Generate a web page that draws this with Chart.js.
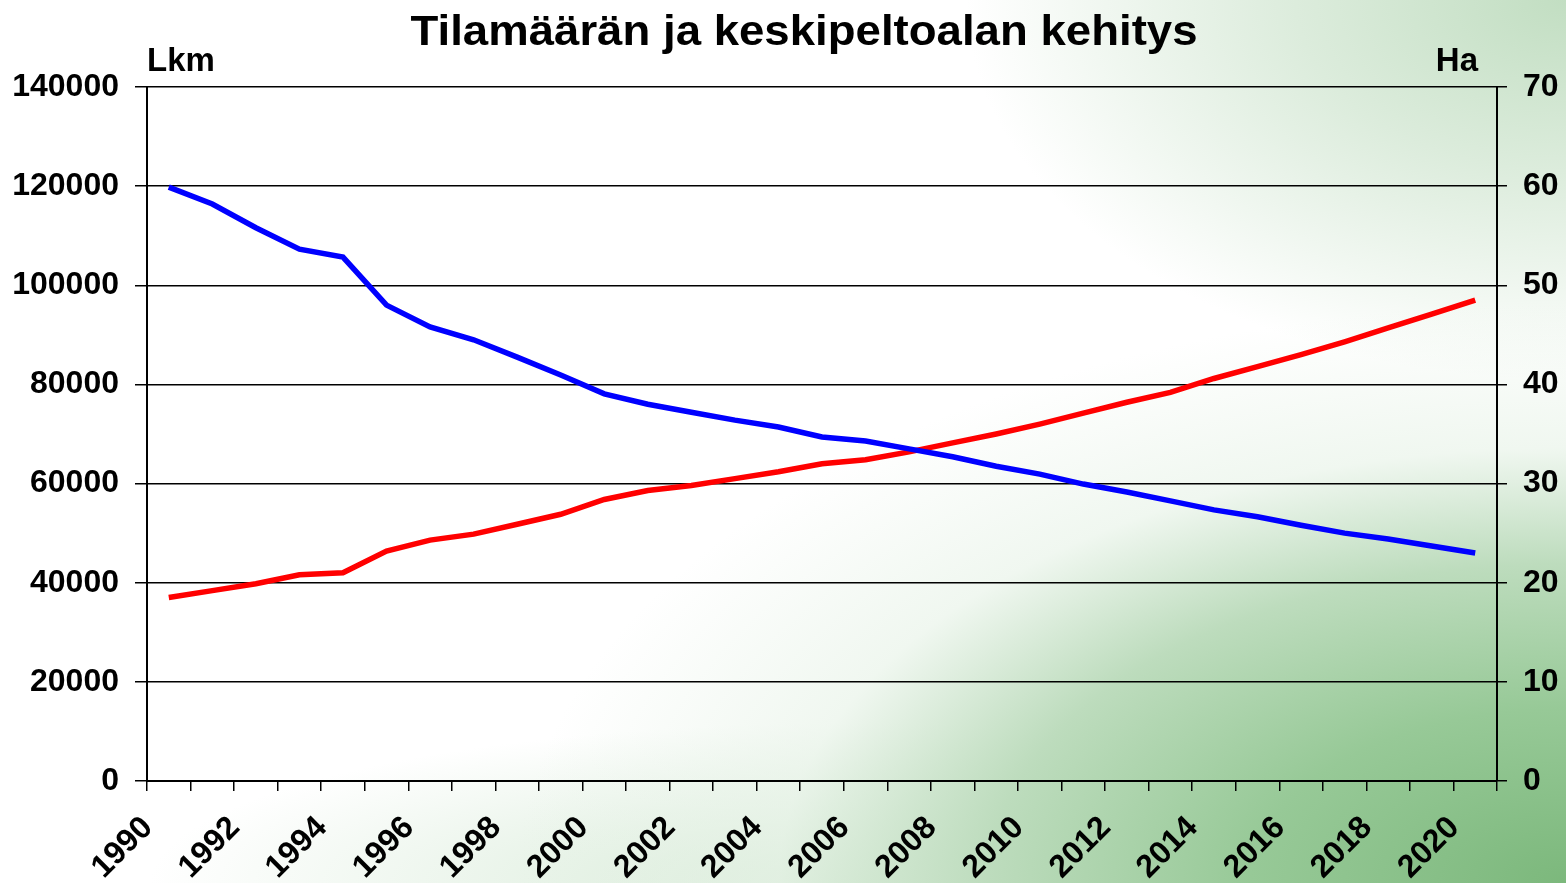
<!DOCTYPE html>
<html>
<head>
<meta charset="utf-8">
<script src="https://cdn.jsdelivr.net/npm/chart.js@4.4.1/dist/chart.umd.min.js"></script>
<style>
  html, body { margin: 0; padding: 0; }
  body {
    width: 1566px; height: 883px; overflow: hidden;
    background:
      radial-gradient(ellipse 1050px 580px at 1566px 883px, #7cb87c 0%, #97c997 30%, #bddcbd 55%, rgba(230,242,230,0.6) 75%, rgba(255,255,255,0) 100%),
      radial-gradient(ellipse 600px 380px at 1566px 0px, #c2dec2 0%, #dcecdc 45%, rgba(255,255,255,0) 100%),
      radial-gradient(ellipse 700px 160px at 850px 883px, #d6ead6 0%, rgba(255,255,255,0) 100%),
      #ffffff;
  }
  #wrap { position: absolute; left: 0; top: 0; width: 1566px; height: 883px; }
</style>
</head>
<body>
<div id="wrap"><canvas id="c" width="1566" height="883"></canvas></div>
<script>
const years = ['1990','1991','1992','1993','1994','1995','1996','1997','1998','1999','2000','2001','2002','2003','2004','2005','2006','2007','2008','2009','2010','2011','2012','2013','2014','2015','2016','2017','2018','2019','2020'];
const tilamaara = [119800,116400,111600,107300,105700,96000,91600,89000,85500,81900,78100,76000,74400,72800,71400,69400,68600,67000,65400,63500,61900,59900,58300,56500,54700,53300,51600,50000,48800,47400,46000];
const keskipeltoala = [18.5,19.2,19.9,20.8,21.0,23.2,24.3,24.9,25.9,26.9,28.4,29.3,29.8,30.5,31.2,32.0,32.4,33.2,34.1,35.0,36.0,37.1,38.2,39.2,40.6,41.8,43.0,44.3,45.7,47.1,48.5];
const leftTicks = [0,20000,40000,60000,80000,100000,120000,140000];
const rightTicks = [0,10,20,30,40,50,60,70];
const titleText = 'Tilamäärän ja keskipeltoalan kehitys';
const leftUnit = 'Lkm';
const rightUnit = 'Ha';

const FONT = '"Liberation Sans", Arial, sans-serif';

const textPlugin = {
  id: 'texts',
  afterDraw(chart) {
    const ctx = chart.ctx;
    ctx.save();
    ctx.fillStyle = '#000';
    ctx.textBaseline = 'alphabetic';
    ctx.font = 'bold 43px ' + FONT;
    ctx.textAlign = 'center';
    ctx.save();
    ctx.translate(804, 45);
    ctx.scale(1.06, 1);
    ctx.fillText(titleText, 0, 0);
    ctx.restore();
    ctx.font = 'bold 33px ' + FONT;
    ctx.textAlign = 'left';
    ctx.fillText(leftUnit, 147, 71);
    ctx.textAlign = 'right';
    ctx.fillText(rightUnit, 1478, 71);
    ctx.restore();
  }
};

new Chart(document.getElementById('c'), {
  type: 'line',
  data: {
    labels: years,
    datasets: [
      { label: 'Tilamäärä', data: tilamaara, yAxisID: 'y', borderColor: '#0000ff', borderWidth: 5.5, pointRadius: 0, tension: 0, fill: false },
      { label: 'Keskipeltoala', data: keskipeltoala, yAxisID: 'y2', borderColor: '#ff0000', borderWidth: 5.5, pointRadius: 0, tension: 0, fill: false }
    ]
  },
  options: {
    responsive: false,
    animation: false,
    devicePixelRatio: 1,
    layout: { padding: { top: 87, left: 0, right: 0, bottom: 0 } },
    plugins: { legend: { display: false }, title: { display: false }, tooltip: { enabled: false } },
    scales: {
      x: {
        type: 'category',
        offset: true,
        grid: { display: true, offset: true, drawOnChartArea: false, drawTicks: true, tickLength: 10, color: '#000', lineWidth: 1.5 },
        border: { display: true, color: '#000', width: 2 },
        ticks: {
          autoSkip: false, maxRotation: 45, minRotation: 45, labelOffset: -21, padding: 18,
          color: '#000', font: { family: FONT, size: 32, weight: 'bold' },
          callback: function(v, i) { return i % 2 === 0 ? years[i] : ''; }
        },
        afterFit(s) { s.height = 102; }
      },
      y: {
        position: 'left', min: 0, max: 140000,
        afterBuildTicks(s) { s.ticks = leftTicks.map(v => ({ value: v })); },
        grid: { color: '#000', lineWidth: 1.5, tickLength: 12 },
        border: { display: true, color: '#000', width: 2 },
        ticks: { color: '#000', padding: 16, font: { family: FONT, size: 32, weight: 'bold' }, callback: v => String(v) },
        afterFit(s) { s.width = 147; }
      },
      y2: {
        position: 'right', min: 0, max: 70,
        afterBuildTicks(s) { s.ticks = rightTicks.map(v => ({ value: v })); },
        grid: { drawOnChartArea: false, color: '#000', lineWidth: 1.5, tickLength: 10 },
        border: { display: true, color: '#000', width: 2 },
        ticks: { color: '#000', padding: 16, font: { family: FONT, size: 32, weight: 'bold' }, callback: v => String(v) },
        afterFit(s) { s.width = 69; }
      }
    }
  },
  plugins: [textPlugin]
});
</script>
</body>
</html>
